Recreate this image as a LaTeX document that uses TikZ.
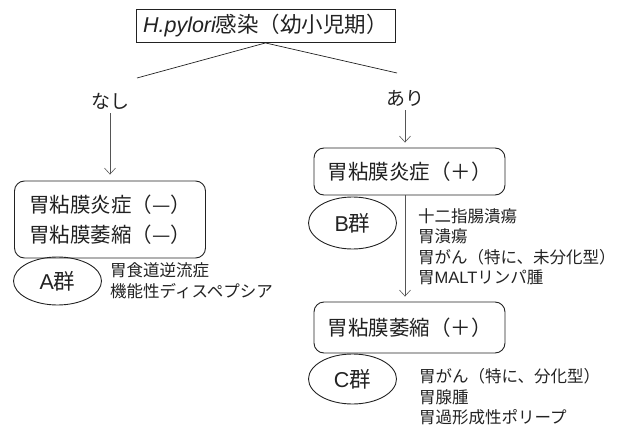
\documentclass[tikz,border=0pt]{standalone}
\usepackage{fontspec}
\setmainfont{Noto Sans CJK JP}
\newfontfamily\latinfont{Liberation Sans}
\usetikzlibrary{arrows.meta,shapes.geometric}
\definecolor{ink}{HTML}{222222}
\definecolor{arrgray}{HTML}{555555}
\tikzset{
  topbox/.style={draw=ink, line width=0.9pt, minimum width=259pt, minimum height=33pt, inner sep=0pt, text=ink, font=\fontsize{21.5}{26}\selectfont},
  rbox/.style={draw=ink, line width=0.9pt, rounded corners=10pt, minimum width=191pt, inner sep=0pt, align=center, text=ink, font=\fontsize{20.5}{30}\selectfont},
  grp/.style={draw=ink, line width=0.9pt, ellipse, minimum width=88pt, minimum height=48pt, inner sep=0pt, text=ink, font=\fontsize{21.5}{24}\selectfont},
  lst/.style={anchor=west, align=left, inner sep=0pt, text=ink, font=\fontsize{16.5}{20.5}\selectfont},
  lbl/.style={inner sep=0pt, text=ink, font=\fontsize{19}{22}\selectfont},
  arr/.style={draw=arrgray, line width=0.6pt, -{Straight Barb[length=6pt,width=11pt]}},
  branch/.style={draw=ink, line width=0.7pt}
}
\begin{document}
\begin{tikzpicture}[x=1pt,y=-1pt]
\useasboundingbox (0,0) rectangle (621,425);
\node[topbox] (top) at (265.5,26) {{\latinfont\itshape H.pylori}感染（幼小児期）};
\coordinate (lend) at (137,78);
\coordinate (rend) at (397,73);
\draw[branch] (lend) -- (top.south) -- (rend);
\node[lbl] (nashi) at (110,101) {なし};
\node[lbl] (ari) at (405,98) {あり};
\node[rbox, minimum height=77pt] (lbox) at (110,219.5) {胃粘膜炎症（—）\\胃粘膜萎縮（—）};
\node[rbox, minimum height=47pt] (r1) at (409.5,171.5) {胃粘膜炎症（＋）};
\node[rbox, minimum height=51pt] (r2) at (409.5,327.5) {胃粘膜萎縮（＋）};
\node[grp] (ga) at (57.5,281) {{\latinfont A}群};
\node[grp, minimum height=52pt] (gb) at (352.5,223) {{\latinfont B}群};
\node[grp, minimum height=50pt] (gc) at (352.5,379) {{\latinfont C}群};
\node[lst] (la) at (110,280.5) {胃食道逆流症\\機能性ディスペプシア};
\node[lst] (lb) at (418,246.5) {十二指腸潰瘍\\胃潰瘍\\胃がん（特に、未分化型）\\胃{\latinfont MALT}リンパ腫};
\node[lst] (lc) at (419,397) {胃がん（特に、分化型）\\胃腺腫\\胃過形成性ポリープ};
\draw[arr, shorten <=4pt, shorten >=6pt] (nashi.south) -- (lbox.north);
\draw[arr, shorten <=4pt, shorten >=5pt] (ari.south) -- (ari.south |- r1.north);
\draw[arr, shorten >=5pt] (ari.south |- r1.south) -- (ari.south |- r2.north);
\end{tikzpicture}
\end{document}
